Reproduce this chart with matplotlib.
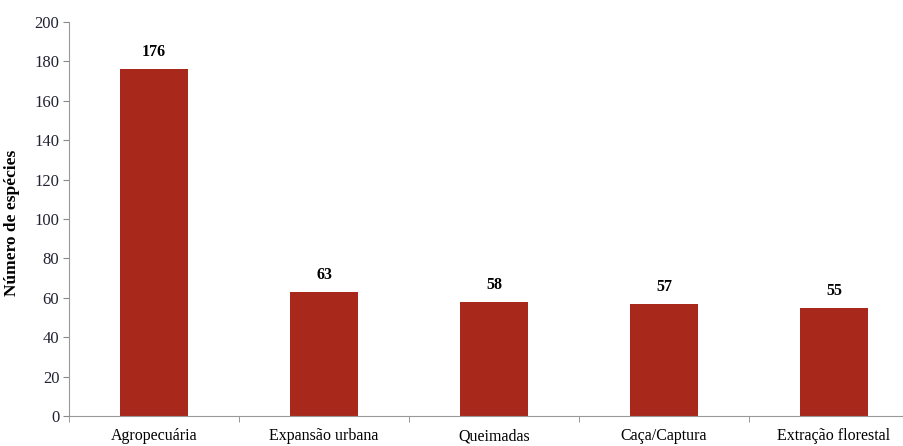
import numpy as np
import matplotlib.pyplot as plt
from matplotlib.ticker import FixedLocator

plt.rcParams['font.family'] = ['Liberation Serif', 'DejaVu Serif']

# Data
categories = ['Agropecuária', 'Expansão urbana', 'Queimadas', 'Caça/Captura', 'Extração florestal']
values = [176, 63, 58, 57, 55]

W, H = 904, 446
fig = plt.figure(figsize=(W / 100, H / 100), dpi=100)
left, right, bottom, top = 69, 919, 416, 22
ax = fig.add_axes([left / W, (H - bottom) / H, (right - left) / W, (bottom - top) / H])

x = np.arange(len(categories))
ax.bar(x, values, width=0.4, color='#a8281c')

for xi, v in zip(x, values):
    ax.text(xi, v + 4.5, str(v), ha='center', va='bottom', fontsize=11.5, fontweight='bold')

ax.set_xlim(-0.5, len(categories) - 0.5)
ax.set_ylim(0, 200)
ax.set_yticks(np.arange(0, 201, 20))
ax.tick_params(axis='y', labelsize=12, length=4, color='#888888', labelcolor='#222233', pad=3)

# category labels centered, ticks at boundaries
ax.set_xticks(x)
ax.set_xticklabels(categories, fontsize=11.5)
ax.tick_params(axis='x', which='major', length=0, pad=9)
ax.xaxis.set_minor_locator(FixedLocator(np.arange(-0.5, len(categories), 1)))
ax.tick_params(axis='x', which='minor', length=4, color='#888888')

ax.set_ylabel('Número de espécies', fontsize=12.5, fontweight='bold', labelpad=9)
ax.yaxis.set_label_coords(-0.058, 0.49)

for s in ['top', 'right']:
    ax.spines[s].set_visible(False)
for s in ['left', 'bottom']:
    ax.spines[s].set_color('#999999')

fig.savefig('out.png', dpi=100)
